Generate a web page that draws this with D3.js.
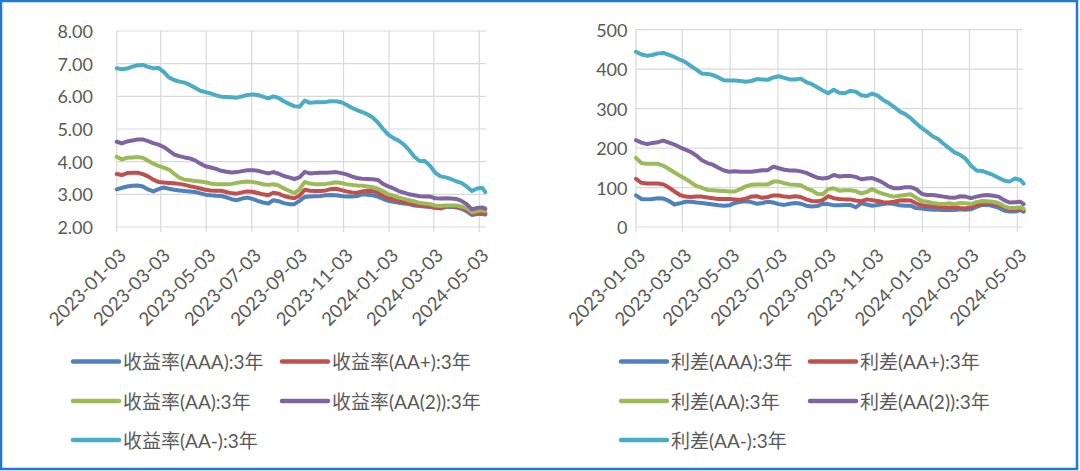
<!DOCTYPE html>
<html><head><meta charset="utf-8">
<script src="https://cdn.jsdelivr.net/npm/d3@7"></script>
<style>
html,body{margin:0;padding:0;background:#fff;}
svg text{font-family:Lato,"Noto Sans CJK SC",sans-serif;fill:#595959;}
</style></head>
<body>
<svg id="c" width="1080" height="471"></svg>
<script>
const dates = ["2023-01-03","2023-01-10","2023-01-17","2023-01-24","2023-01-31","2023-02-07","2023-02-14","2023-02-21","2023-02-28","2023-03-07","2023-03-14","2023-03-21","2023-03-28","2023-04-04","2023-04-11","2023-04-18","2023-04-25","2023-05-02","2023-05-09","2023-05-16","2023-05-23","2023-05-30","2023-06-06","2023-06-13","2023-06-20","2023-06-27","2023-07-04","2023-07-11","2023-07-18","2023-07-25","2023-08-01","2023-08-08","2023-08-15","2023-08-22","2023-08-29","2023-09-05","2023-09-12","2023-09-19","2023-09-26","2023-10-03","2023-10-10","2023-10-17","2023-10-24","2023-10-31","2023-11-07","2023-11-14","2023-11-21","2023-11-28","2023-12-05","2023-12-12","2023-12-19","2023-12-26","2024-01-02","2024-01-09","2024-01-16","2024-01-23","2024-01-30","2024-02-06","2024-02-13","2024-02-20","2024-02-27","2024-03-05","2024-03-12","2024-03-19","2024-03-26","2024-04-02","2024-04-09","2024-04-16","2024-04-23","2024-04-30","2024-05-07","2024-05-11"];

// 收益率 (%)
const yieldAAA = [3.15,3.20,3.24,3.26,3.27,3.24,3.15,3.09,3.16,3.21,3.17,3.14,3.12,3.10,3.09,3.07,3.03,2.99,2.97,2.96,2.95,2.91,2.85,2.82,2.87,2.90,2.86,2.80,2.75,2.72,2.82,2.79,2.73,2.70,2.70,2.80,2.92,2.93,2.94,2.95,2.97,2.98,2.97,2.95,2.93,2.93,2.95,3.00,2.99,2.97,2.93,2.86,2.80,2.77,2.74,2.72,2.70,2.66,2.64,2.63,2.62,2.59,2.57,2.61,2.62,2.60,2.56,2.48,2.37,2.40,2.40,2.38];
const yieldAAplus = [3.62,3.59,3.65,3.66,3.66,3.62,3.55,3.45,3.38,3.36,3.35,3.34,3.32,3.29,3.25,3.22,3.18,3.14,3.12,3.11,3.11,3.07,3.03,3.02,3.06,3.09,3.08,3.04,3.00,2.97,3.05,3.02,2.95,2.91,2.88,2.96,3.14,3.11,3.10,3.10,3.12,3.16,3.17,3.13,3.09,3.06,3.05,3.09,3.11,3.10,3.05,2.95,2.88,2.84,2.80,2.76,2.72,2.69,2.67,2.64,2.62,2.59,2.57,2.63,2.64,2.62,2.60,2.53,2.40,2.43,2.44,2.42];
const yieldAA = [4.15,4.07,4.12,4.13,4.14,4.12,4.03,3.94,3.87,3.82,3.76,3.63,3.51,3.45,3.43,3.41,3.39,3.37,3.33,3.31,3.31,3.31,3.32,3.35,3.38,3.39,3.38,3.35,3.31,3.29,3.31,3.27,3.18,3.11,3.04,3.15,3.38,3.33,3.31,3.31,3.32,3.34,3.37,3.35,3.31,3.29,3.27,3.26,3.24,3.22,3.17,3.10,3.00,2.96,2.90,2.86,2.82,2.78,2.74,2.72,2.70,2.66,2.64,2.66,2.66,2.66,2.63,2.58,2.45,2.49,2.51,2.49];
const yieldAA2 = [4.61,4.56,4.62,4.65,4.68,4.68,4.63,4.57,4.52,4.45,4.34,4.22,4.17,4.13,4.10,4.04,3.94,3.86,3.82,3.78,3.72,3.69,3.67,3.68,3.71,3.74,3.74,3.72,3.68,3.64,3.68,3.63,3.56,3.52,3.47,3.52,3.69,3.64,3.65,3.66,3.66,3.67,3.68,3.65,3.61,3.55,3.50,3.48,3.47,3.46,3.44,3.32,3.24,3.18,3.10,3.05,3.00,2.97,2.94,2.93,2.93,2.88,2.87,2.88,2.87,2.86,2.80,2.70,2.54,2.58,2.60,2.56];
const yieldAAminus = [6.86,6.83,6.85,6.91,6.95,6.96,6.90,6.86,6.87,6.75,6.58,6.50,6.45,6.42,6.35,6.26,6.17,6.13,6.09,6.03,5.99,5.98,5.97,5.96,6.00,6.04,6.06,6.04,5.99,5.94,6.00,5.95,5.85,5.77,5.70,5.68,5.87,5.80,5.82,5.82,5.83,5.85,5.85,5.82,5.74,5.65,5.58,5.52,5.45,5.35,5.20,5.00,4.83,4.72,4.64,4.52,4.35,4.15,4.02,4.02,3.87,3.66,3.55,3.52,3.47,3.40,3.35,3.24,3.10,3.18,3.20,3.07];

// 利差 (bp)
const spreadAAA = [80,71,70,71,73,72,66,57,60,64,64,62,61,59,57,55,54,55,61,64,65,63,59,61,64,62,58,56,59,61,59,54,52,53,59,58,55,55,56,56,50,60,57,54,56,58,60,58,55,54,54,48,47,45,44,44,43,43,43,45,44,45,51,56,56,53,49,42,39,39,43,39];
const spreadAAplus = [122,112,110,110,110,108,100,90,81,77,76,77,77,75,73,71,71,71,70,69,72,77,78,74,76,80,80,77,76,78,76,70,66,65,68,78,73,71,70,70,67,65,70,68,66,63,62,64,67,68,67,60,55,53,52,51,50,49,50,48,47,50,56,58,58,58,56,50,44,44,45,41];
const spreadAA = [175,162,160,160,160,155,147,138,130,122,113,104,99,94,93,92,91,90,90,96,103,107,108,108,108,115,115,111,108,107,106,98,93,84,83,96,98,92,93,93,91,85,89,96,89,84,80,77,79,81,83,74,66,64,61,59,58,60,58,61,60,58,63,66,65,64,61,53,48,48,50,46];
const spreadAA2 = [220,214,210,213,215,219,214,209,202,196,190,181,169,162,158,150,143,140,141,140,140,140,142,144,144,153,149,145,143,143,141,137,131,125,123,125,132,128,129,129,127,121,123,124,119,112,103,98,98,101,101,96,84,81,81,79,77,75,74,78,77,73,77,80,81,79,77,68,62,63,64,58];
const spreadAAminus = [444,437,434,436,440,441,436,431,424,418,408,399,389,388,385,379,372,371,371,370,368,370,375,374,373,379,382,378,374,374,376,367,362,354,346,339,348,340,339,345,343,334,332,338,333,322,314,304,293,286,276,263,251,241,230,223,211,200,189,183,173,155,143,142,137,132,125,118,115,123,119,110];

const yieldNames = ["收益率(AAA):3年","收益率(AA+):3年","收益率(AA):3年","收益率(AA(2)):3年","收益率(AA-):3年"];
const spreadNames = ["利差(AAA):3年","利差(AA+):3年","利差(AA):3年","利差(AA(2)):3年","利差(AA-):3年"];
const seriesColors = ["#4f81bd","#c0504d","#9bbb59","#8064a2","#4bacc6"];
const dateTicks = ["2023-01-03","2023-03-03","2023-05-03","2023-07-03","2023-09-03","2023-11-03","2024-01-03","2024-03-03","2024-05-03"];
const yieldTicks = [2,3,4,5,6,7,8];
const spreadTicks = [0,100,200,300,400,500];
const domainEnd = "2024-05-11";

const parse = d3.timeParse("%Y-%m-%d");
const svg = d3.select("#c");

function drawChart(cfg){
  const g = svg.append("g");
  const x = d3.scaleTime().domain([parse(dates[0]), parse(domainEnd)]).range([cfg.x0, cfg.x1]);
  const y = d3.scaleLinear().domain(cfg.yDomain).range([cfg.yb, cfg.yt]);
  const grid = g.append("g").attr("stroke","#d9d9d9").attr("stroke-width",1.2);
  cfg.yTicks.forEach(t=>{
    grid.append("line").attr("x1",cfg.x0).attr("x2",cfg.gridRight).attr("y1",y(t)).attr("y2",y(t));
  });
  dateTicks.forEach(t=>{
    const xx = x(parse(t));
    grid.append("line").attr("x1",xx).attr("x2",xx).attr("y1",cfg.yt).attr("y2",cfg.yb+5);
  });
  // y labels
  g.append("g").selectAll("text").data(cfg.yTicks).join("text")
    .attr("x",cfg.labelX).attr("y",d=>y(d)).attr("text-anchor","end")
    .attr("dominant-baseline","central").attr("font-size",18)
    .text(cfg.fmt);
  // x labels
  g.append("g").selectAll("text").data(dateTicks).join("text")
    .attr("transform",d=>`translate(${x(parse(d))+6},${cfg.yb+25}) rotate(-45)`)
    .attr("text-anchor","end").attr("dy","0.35em").attr("font-size",18.5)
    .text(d=>d);
  // lines
  const line = d3.line().x((d,i)=>x(parse(dates[i]))).y(d=>y(d));
  cfg.series.forEach((s,i)=>{
    g.append("path").attr("d",line(s)).attr("fill","none")
      .attr("stroke",seriesColors[i]).attr("stroke-width",4)
      .attr("stroke-linejoin","round").attr("stroke-linecap","round");
  });
  // legend
  cfg.names.forEach((n,i)=>{
    const col = i%2, row = Math.floor(i/2);
    const lx = cfg.legX[col], ly = cfg.legY[row];
    g.append("line").attr("x1",lx).attr("x2",lx+46).attr("y1",ly).attr("y2",ly)
      .attr("stroke",seriesColors[i]).attr("stroke-width",4.5).attr("stroke-linecap","round");
    g.append("text").attr("x",lx+50).attr("y",ly).attr("dominant-baseline","central")
      .attr("font-size",19).text(n);
  });
}

drawChart({x0:116.7, x1:485.3, gridRight:486, yt:31, yb:227, yDomain:[2,8], yTicks:yieldTicks,
  fmt:d=>d.toFixed(2), labelX:93,
  series:[yieldAAA,yieldAAplus,yieldAA,yieldAA2,yieldAAminus], names:yieldNames,
  legX:[73,282], legY:[361.5,401,440]});
drawChart({x0:636, x1:1023.6, gridRight:1022.7, yt:29.7, yb:227, yDomain:[0,500], yTicks:spreadTicks,
  fmt:d=>String(d), labelX:627.5,
  series:[spreadAAA,spreadAAplus,spreadAA,spreadAA2,spreadAAminus], names:spreadNames,
  legX:[621,810], legY:[361.5,401,440]});

svg.append("rect").attr("x",1).attr("y",1).attr("width",1076).attr("height",468)
  .attr("fill","none").attr("stroke","#1c7cd5").attr("stroke-width",2.5);
</script>
</body></html>
